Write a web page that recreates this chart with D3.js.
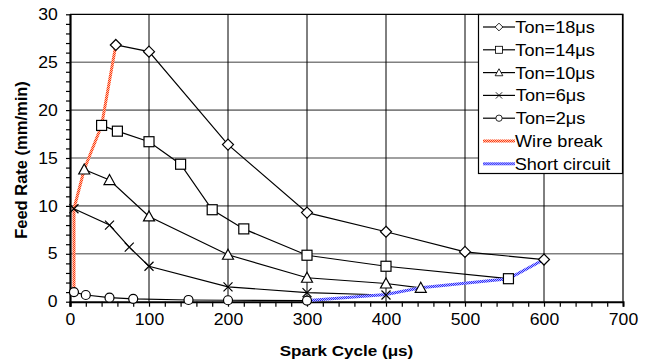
<!DOCTYPE html>
<html>
<head>
<meta charset="utf-8">
<script src="https://cdn.jsdelivr.net/npm/d3@7"></script>
<style>
  body { margin: 0; background: #fff; }
  svg { font-family: "Liberation Sans", Arial, sans-serif; }
  .wide { transform-box: fill-box; transform-origin: center; transform: scaleX(1.1); }
</style>
</head>
<body>
<div id="chart"></div>
<script>
// data
var ton18 = [[58, 26.8], [100, 26.1], [200, 16.4], [300, 9.3], [400, 7.3], [500, 5.2], [600, 4.4]]
var ton14 = [[40, 18.4], [60, 17.8], [100, 16.7], [140, 14.35], [180, 9.6], [220, 7.6], [300, 4.85], [400, 3.7], [555, 2.4]]
var ton10 = [[18, 13.8], [50, 12.7], [100, 8.9], [200, 4.9], [300, 2.5], [400, 1.9], [444, 1.45]]
var ton6 = [[5, 9.7], [50, 8.0], [75, 5.7], [100, 3.7], [200, 1.55], [300, 0.95], [400, 0.7]]
var ton2 = [[5, 1.0], [20, 0.7], [50, 0.42], [80, 0.3], [150, 0.18], [200, 0.15], [300, 0.12]]
var wireBreak = [[5, 1.0], [5, 9.7], [18, 13.8], [40, 18.4], [58, 26.8]]
var shortCircuit = [[302, 0.12], [400, 0.75], [444, 1.45], [555, 2.4], [600, 4.4]]

var seriesNames = ["Ton=18μs", "Ton=14μs", "Ton=10μs", "Ton=6μs", "Ton=2μs", "Wire break", "Short circuit"]
var xTicks = [0, 100, 200, 300, 400, 500, 600, 700]
var yTicks = [0, 5, 10, 15, 20, 25, 30]

var width = 648, height = 363
var margin = {top: 14.3, right: 25, bottom: 61.3, left: 70}

var svg = d3.select("#chart").append("svg")
  .attr("width", width).attr("height", height)

var defs = svg.append("defs")
function checker(id, light, dark) {
  var p = defs.append("pattern").attr("id", id)
    .attr("patternUnits", "userSpaceOnUse").attr("width", 2).attr("height", 2)
  p.append("rect").attr("width", 2).attr("height", 2).attr("fill", light)
  p.append("rect").attr("width", 1).attr("height", 1).attr("fill", dark)
  p.append("rect").attr("x", 1).attr("y", 1).attr("width", 1).attr("height", 1).attr("fill", dark)
}
checker("redPat", "#ffc0a8", "#ff3b12")
checker("bluePat", "#b8b8ff", "#2b2bff")

var x = d3.scaleLinear().domain([0, 700]).range([margin.left, width - margin.right])
var y = d3.scaleLinear().domain([0, 30]).range([height - margin.bottom, margin.top])

// grid
svg.append("g")
  .selectAll("line")
  .data(yTicks.slice(1, -1))
  .join("line")
    .attr("x1", x(0)).attr("x2", x(700))
    .attr("y1", d => y(d)).attr("y2", d => y(d))
    .attr("stroke", "#808080").attr("stroke-width", 1.6)
svg.append("g")
  .selectAll("line")
  .data(xTicks.slice(1, -1))
  .join("line")
    .attr("x1", d => x(d)).attr("x2", d => x(d))
    .attr("y1", y(0)).attr("y2", y(30))
    .attr("stroke", "#000").attr("stroke-width", 1)

// frame top/right
svg.append("path")
  .attr("d", `M${x(0)},${y(30)}H${x(700)}V${y(0)}`)
  .attr("fill", "none").attr("stroke", "#000").attr("stroke-width", 1.2)

// axes
var gx = svg.append("g").attr("transform", `translate(0,${y(0)})`)
gx.call(d3.axisBottom(x).tickValues(d3.range(0, 701, 20)).tickSize(5).tickFormat(d => d % 100 === 0 ? d : ""))
gx.select(".domain").attr("stroke-width", 2)
gx.selectAll("line").attr("stroke-width", 1.2)
gx.selectAll("text").attr("class", "wide").attr("font-size", 16).attr("fill", "#000").attr("dy", "0.95em")

var gy = svg.append("g").attr("transform", `translate(${x(0)},0)`)
gy.call(d3.axisLeft(y).tickValues(d3.range(0, 31, 1)).tickSize(4).tickPadding(9).tickFormat(d => d % 5 === 0 ? d : ""))
gy.select(".domain").attr("stroke-width", 2.2)
gy.selectAll("line").attr("stroke-width", 1.2)
gy.selectAll("text").attr("class", "wide").attr("font-size", 16).attr("fill", "#000")
gy.selectAll("path.domain").attr("d", `M0.5,${y(0) + 5}V${y(30)}`)

// titles
svg.append("text").attr("class", "wide")
  .attr("x", (x(0) + x(700)) / 2).attr("y", 356)
  .attr("text-anchor", "middle").attr("font-weight", "bold").attr("font-size", 15.5)
  .text("Spark Cycle (μs)")
svg.append("text")
  .attr("transform", `translate(27,${(y(0) + y(30)) / 2 + 2}) rotate(-90)`)
  .attr("text-anchor", "middle").attr("font-weight", "bold").attr("font-size", 16.5)
  .text("Feed Rate (mm/min)")

var line = d3.line().x(d => x(d[0])).y(d => y(d[1]))
var tonSeries = [ton18, ton14, ton10, ton6, ton2]
var shapes = ["diamond", "square", "triangle", "cross", "circle"]

svg.append("g").selectAll("path")
  .data(tonSeries)
  .join("path")
    .attr("d", line)
    .attr("fill", "none").attr("stroke", "#000").attr("stroke-width", 1.2)

svg.append("path").attr("d", line(wireBreak))
  .attr("fill", "none").attr("stroke", "url(#redPat)").attr("stroke-width", 3)
svg.append("path").attr("d", line(shortCircuit))
  .attr("fill", "none").attr("stroke", "url(#bluePat)").attr("stroke-width", 3)

function marker(g, shape) {
  if (shape === "diamond") g.append("path").attr("d", "M0,-5.5L5.5,0L0,5.5L-5.5,0Z")
  else if (shape === "square") g.append("rect").attr("x", -5).attr("y", -5).attr("width", 10).attr("height", 10)
  else if (shape === "triangle") g.append("path").attr("d", "M0,-5.5L5.5,4.5L-5.5,4.5Z")
  else if (shape === "circle") g.append("circle").attr("r", 4.5)
  else g.append("path").attr("d", "M-4.5,-4.5L4.5,4.5M-4.5,4.5L4.5,-4.5")
  g.attr("fill", "#fff").attr("stroke", "#000").attr("stroke-width", 1.2)
}

tonSeries.forEach((s, i) => {
  svg.append("g").selectAll("g")
    .data(s)
    .join("g")
      .attr("transform", d => `translate(${x(d[0])},${y(d[1])})`)
      .each(function() { marker(d3.select(this), shapes[i]) })
})

// legend
var lg = svg.append("g").attr("transform", "translate(478,14)")
lg.append("rect").attr("x", 0.5).attr("y", 0.5).attr("width", 144).attr("height", 159)
  .attr("fill", "#fff").attr("stroke", "#000").attr("stroke-width", 1.2)
seriesNames.forEach((name, i) => {
  var row = lg.append("g").attr("transform", `translate(0,${13 + i * 22.8})`)
  if (i < 5) {
    row.append("line").attr("x1", 5).attr("x2", 37).attr("stroke", "#000").attr("stroke-width", 1.2)
    var m = row.append("g").attr("transform", "translate(21,0) scale(0.7)")
    marker(m, shapes[i])
  } else {
    row.append("line").attr("x1", 5).attr("x2", 37)
      .attr("stroke", i === 5 ? "url(#redPat)" : "url(#bluePat)").attr("stroke-width", 3)
  }
  row.append("text").attr("class", "wide")
    .attr("x", 41).attr("y", 0).attr("dy", "0.36em").attr("font-size", 16.5)
    .text(name)
})
</script>
</body>
</html>
